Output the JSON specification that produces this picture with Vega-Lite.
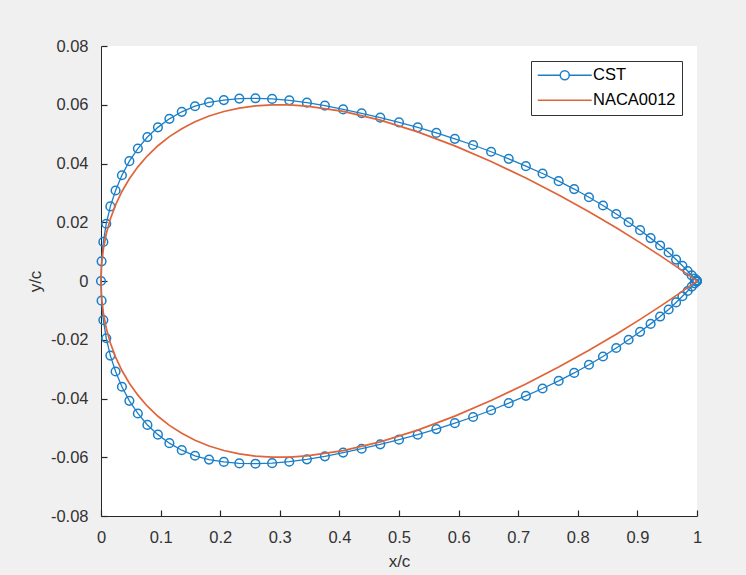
{
  "$schema": "https://vega.github.io/schema/vega-lite/v6.json",
  "width": 596,
  "height": 470,
  "autosize": {"type": "none"},
  "padding": {"left": 101, "top": 46, "right": 49, "bottom": 59},
  "background": "#f0f0f0",
  "config": {
    "view": {"fill": "white", "stroke": null},
    "font": "Liberation Sans",
    "axis": {
      "domainColor": "#262626",
      "ticks": true,
      "tickColor": "#262626",
      "labelColor": "#333333",
      "titleColor": "#333333",
      "labelFont": "Liberation Sans",
      "titleFont": "Liberation Sans",
      "labelFontSize": 16.5,
      "titleFontSize": 17,
      "titleFontWeight": "normal",
      "grid": false,
      "domainWidth": 1,
      "tickWidth": 1.2,
      "tickSize": -6,
      "labelPadding": 19,
      "labelFlush": false,
      "labelOverlap": false,
      "zindex": 1
    }
  },
  "data": {
    "values": [
      {"s": "CST", "o": 0, "x": 1, "y": 0},
      {"s": "CST", "o": 1, "x": 0.99901, "y": 0.0002},
      {"s": "CST", "o": 2, "x": 0.99606, "y": 0.0008},
      {"s": "CST", "o": 3, "x": 0.99114, "y": 0.0019},
      {"s": "CST", "o": 4, "x": 0.98429, "y": 0.0034},
      {"s": "CST", "o": 5, "x": 0.97553, "y": 0.0052},
      {"s": "CST", "o": 6, "x": 0.96489, "y": 0.0073},
      {"s": "CST", "o": 7, "x": 0.95241, "y": 0.0097},
      {"s": "CST", "o": 8, "x": 0.93815, "y": 0.0121},
      {"s": "CST", "o": 9, "x": 0.92216, "y": 0.0146},
      {"s": "CST", "o": 10, "x": 0.90451, "y": 0.0173},
      {"s": "CST", "o": 11, "x": 0.88526, "y": 0.02},
      {"s": "CST", "o": 12, "x": 0.86448, "y": 0.0228},
      {"s": "CST", "o": 13, "x": 0.84227, "y": 0.0257},
      {"s": "CST", "o": 14, "x": 0.81871, "y": 0.0285},
      {"s": "CST", "o": 15, "x": 0.79389, "y": 0.0313},
      {"s": "CST", "o": 16, "x": 0.76791, "y": 0.034},
      {"s": "CST", "o": 17, "x": 0.74088, "y": 0.0366},
      {"s": "CST", "o": 18, "x": 0.71289, "y": 0.0391},
      {"s": "CST", "o": 19, "x": 0.68406, "y": 0.0416},
      {"s": "CST", "o": 20, "x": 0.65451, "y": 0.044},
      {"s": "CST", "o": 21, "x": 0.62434, "y": 0.0463},
      {"s": "CST", "o": 22, "x": 0.59369, "y": 0.0484},
      {"s": "CST", "o": 23, "x": 0.56267, "y": 0.0504},
      {"s": "CST", "o": 24, "x": 0.5314, "y": 0.0523},
      {"s": "CST", "o": 25, "x": 0.5, "y": 0.054},
      {"s": "CST", "o": 26, "x": 0.4686, "y": 0.0556},
      {"s": "CST", "o": 27, "x": 0.43733, "y": 0.0571},
      {"s": "CST", "o": 28, "x": 0.40631, "y": 0.0584},
      {"s": "CST", "o": 29, "x": 0.37566, "y": 0.0597},
      {"s": "CST", "o": 30, "x": 0.34549, "y": 0.0607},
      {"s": "CST", "o": 31, "x": 0.31594, "y": 0.0615},
      {"s": "CST", "o": 32, "x": 0.28711, "y": 0.062},
      {"s": "CST", "o": 33, "x": 0.25912, "y": 0.0622},
      {"s": "CST", "o": 34, "x": 0.23209, "y": 0.0621},
      {"s": "CST", "o": 35, "x": 0.20611, "y": 0.0616},
      {"s": "CST", "o": 36, "x": 0.18129, "y": 0.0608},
      {"s": "CST", "o": 37, "x": 0.15773, "y": 0.0595},
      {"s": "CST", "o": 38, "x": 0.13552, "y": 0.0576},
      {"s": "CST", "o": 39, "x": 0.11474, "y": 0.0552},
      {"s": "CST", "o": 40, "x": 0.09549, "y": 0.0523},
      {"s": "CST", "o": 41, "x": 0.07784, "y": 0.049},
      {"s": "CST", "o": 42, "x": 0.06185, "y": 0.0451},
      {"s": "CST", "o": 43, "x": 0.04759, "y": 0.0408},
      {"s": "CST", "o": 44, "x": 0.03511, "y": 0.036},
      {"s": "CST", "o": 45, "x": 0.02447, "y": 0.0308},
      {"s": "CST", "o": 46, "x": 0.01571, "y": 0.0254},
      {"s": "CST", "o": 47, "x": 0.00886, "y": 0.0195},
      {"s": "CST", "o": 48, "x": 0.00394, "y": 0.0133},
      {"s": "CST", "o": 49, "x": 0.00099, "y": 0.0067},
      {"s": "CST", "o": 50, "x": 0, "y": 0},
      {"s": "CST", "o": 51, "x": 0.00099, "y": -0.0067},
      {"s": "CST", "o": 52, "x": 0.00394, "y": -0.0133},
      {"s": "CST", "o": 53, "x": 0.00886, "y": -0.0195},
      {"s": "CST", "o": 54, "x": 0.01571, "y": -0.0254},
      {"s": "CST", "o": 55, "x": 0.02447, "y": -0.0308},
      {"s": "CST", "o": 56, "x": 0.03511, "y": -0.036},
      {"s": "CST", "o": 57, "x": 0.04759, "y": -0.0408},
      {"s": "CST", "o": 58, "x": 0.06185, "y": -0.0451},
      {"s": "CST", "o": 59, "x": 0.07784, "y": -0.049},
      {"s": "CST", "o": 60, "x": 0.09549, "y": -0.0523},
      {"s": "CST", "o": 61, "x": 0.11474, "y": -0.0552},
      {"s": "CST", "o": 62, "x": 0.13552, "y": -0.0576},
      {"s": "CST", "o": 63, "x": 0.15773, "y": -0.0595},
      {"s": "CST", "o": 64, "x": 0.18129, "y": -0.0608},
      {"s": "CST", "o": 65, "x": 0.20611, "y": -0.0616},
      {"s": "CST", "o": 66, "x": 0.23209, "y": -0.0621},
      {"s": "CST", "o": 67, "x": 0.25912, "y": -0.0622},
      {"s": "CST", "o": 68, "x": 0.28711, "y": -0.062},
      {"s": "CST", "o": 69, "x": 0.31594, "y": -0.0615},
      {"s": "CST", "o": 70, "x": 0.34549, "y": -0.0607},
      {"s": "CST", "o": 71, "x": 0.37566, "y": -0.0597},
      {"s": "CST", "o": 72, "x": 0.40631, "y": -0.0584},
      {"s": "CST", "o": 73, "x": 0.43733, "y": -0.0571},
      {"s": "CST", "o": 74, "x": 0.4686, "y": -0.0556},
      {"s": "CST", "o": 75, "x": 0.5, "y": -0.054},
      {"s": "CST", "o": 76, "x": 0.5314, "y": -0.0523},
      {"s": "CST", "o": 77, "x": 0.56267, "y": -0.0504},
      {"s": "CST", "o": 78, "x": 0.59369, "y": -0.0484},
      {"s": "CST", "o": 79, "x": 0.62434, "y": -0.0463},
      {"s": "CST", "o": 80, "x": 0.65451, "y": -0.044},
      {"s": "CST", "o": 81, "x": 0.68406, "y": -0.0416},
      {"s": "CST", "o": 82, "x": 0.71289, "y": -0.0391},
      {"s": "CST", "o": 83, "x": 0.74088, "y": -0.0366},
      {"s": "CST", "o": 84, "x": 0.76791, "y": -0.034},
      {"s": "CST", "o": 85, "x": 0.79389, "y": -0.0313},
      {"s": "CST", "o": 86, "x": 0.81871, "y": -0.0285},
      {"s": "CST", "o": 87, "x": 0.84227, "y": -0.0257},
      {"s": "CST", "o": 88, "x": 0.86448, "y": -0.0228},
      {"s": "CST", "o": 89, "x": 0.88526, "y": -0.02},
      {"s": "CST", "o": 90, "x": 0.90451, "y": -0.0173},
      {"s": "CST", "o": 91, "x": 0.92216, "y": -0.0146},
      {"s": "CST", "o": 92, "x": 0.93815, "y": -0.0121},
      {"s": "CST", "o": 93, "x": 0.95241, "y": -0.0097},
      {"s": "CST", "o": 94, "x": 0.96489, "y": -0.0073},
      {"s": "CST", "o": 95, "x": 0.97553, "y": -0.0052},
      {"s": "CST", "o": 96, "x": 0.98429, "y": -0.0034},
      {"s": "CST", "o": 97, "x": 0.99114, "y": -0.0019},
      {"s": "CST", "o": 98, "x": 0.99606, "y": -0.0008},
      {"s": "CST", "o": 99, "x": 0.99901, "y": -0.0002},
      {"s": "CST", "o": 100, "x": 1, "y": 0},
      {"s": "NACA0012", "o": 0, "x": 1, "y": 0},
      {"s": "NACA0012", "o": 1, "x": 0.99606, "y": 0.00057},
      {"s": "NACA0012", "o": 2, "x": 0.98429, "y": 0.00226},
      {"s": "NACA0012", "o": 3, "x": 0.96489, "y": 0.00499},
      {"s": "NACA0012", "o": 4, "x": 0.93815, "y": 0.00864},
      {"s": "NACA0012", "o": 5, "x": 0.90451, "y": 0.01307},
      {"s": "NACA0012", "o": 6, "x": 0.86448, "y": 0.01811},
      {"s": "NACA0012", "o": 7, "x": 0.81871, "y": 0.02357},
      {"s": "NACA0012", "o": 8, "x": 0.76791, "y": 0.02928},
      {"s": "NACA0012", "o": 9, "x": 0.71289, "y": 0.03505},
      {"s": "NACA0012", "o": 10, "x": 0.65451, "y": 0.04069},
      {"s": "NACA0012", "o": 11, "x": 0.59369, "y": 0.04599},
      {"s": "NACA0012", "o": 12, "x": 0.5314, "y": 0.05075},
      {"s": "NACA0012", "o": 13, "x": 0.4686, "y": 0.05475},
      {"s": "NACA0012", "o": 14, "x": 0.40631, "y": 0.05776},
      {"s": "NACA0012", "o": 15, "x": 0.34549, "y": 0.05956},
      {"s": "NACA0012", "o": 16, "x": 0.31594, "y": 0.05995},
      {"s": "NACA0012", "o": 17, "x": 0.28711, "y": 0.05997},
      {"s": "NACA0012", "o": 18, "x": 0.25912, "y": 0.05961},
      {"s": "NACA0012", "o": 19, "x": 0.23209, "y": 0.05886},
      {"s": "NACA0012", "o": 20, "x": 0.20611, "y": 0.05771},
      {"s": "NACA0012", "o": 21, "x": 0.18129, "y": 0.05616},
      {"s": "NACA0012", "o": 22, "x": 0.15773, "y": 0.05421},
      {"s": "NACA0012", "o": 23, "x": 0.13552, "y": 0.05186},
      {"s": "NACA0012", "o": 24, "x": 0.11474, "y": 0.04914},
      {"s": "NACA0012", "o": 25, "x": 0.09549, "y": 0.04605},
      {"s": "NACA0012", "o": 26, "x": 0.07784, "y": 0.04262},
      {"s": "NACA0012", "o": 27, "x": 0.06185, "y": 0.03886},
      {"s": "NACA0012", "o": 28, "x": 0.04759, "y": 0.0348},
      {"s": "NACA0012", "o": 29, "x": 0.03511, "y": 0.03047},
      {"s": "NACA0012", "o": 30, "x": 0.02447, "y": 0.02589},
      {"s": "NACA0012", "o": 31, "x": 0.01571, "y": 0.02109},
      {"s": "NACA0012", "o": 32, "x": 0.00886, "y": 0.01608},
      {"s": "NACA0012", "o": 33, "x": 0.00394, "y": 0.01088},
      {"s": "NACA0012", "o": 34, "x": 0.00099, "y": 0.00552},
      {"s": "NACA0012", "o": 35, "x": 0, "y": 0},
      {"s": "NACA0012", "o": 36, "x": 0.00099, "y": -0.00552},
      {"s": "NACA0012", "o": 37, "x": 0.00394, "y": -0.01088},
      {"s": "NACA0012", "o": 38, "x": 0.00886, "y": -0.01608},
      {"s": "NACA0012", "o": 39, "x": 0.01571, "y": -0.02109},
      {"s": "NACA0012", "o": 40, "x": 0.02447, "y": -0.02589},
      {"s": "NACA0012", "o": 41, "x": 0.03511, "y": -0.03047},
      {"s": "NACA0012", "o": 42, "x": 0.04759, "y": -0.0348},
      {"s": "NACA0012", "o": 43, "x": 0.06185, "y": -0.03886},
      {"s": "NACA0012", "o": 44, "x": 0.07784, "y": -0.04262},
      {"s": "NACA0012", "o": 45, "x": 0.09549, "y": -0.04605},
      {"s": "NACA0012", "o": 46, "x": 0.11474, "y": -0.04914},
      {"s": "NACA0012", "o": 47, "x": 0.13552, "y": -0.05186},
      {"s": "NACA0012", "o": 48, "x": 0.15773, "y": -0.05421},
      {"s": "NACA0012", "o": 49, "x": 0.18129, "y": -0.05616},
      {"s": "NACA0012", "o": 50, "x": 0.20611, "y": -0.05771},
      {"s": "NACA0012", "o": 51, "x": 0.23209, "y": -0.05886},
      {"s": "NACA0012", "o": 52, "x": 0.25912, "y": -0.05961},
      {"s": "NACA0012", "o": 53, "x": 0.28711, "y": -0.05997},
      {"s": "NACA0012", "o": 54, "x": 0.31594, "y": -0.05995},
      {"s": "NACA0012", "o": 55, "x": 0.34549, "y": -0.05956},
      {"s": "NACA0012", "o": 56, "x": 0.40631, "y": -0.05776},
      {"s": "NACA0012", "o": 57, "x": 0.4686, "y": -0.05475},
      {"s": "NACA0012", "o": 58, "x": 0.5314, "y": -0.05075},
      {"s": "NACA0012", "o": 59, "x": 0.59369, "y": -0.04599},
      {"s": "NACA0012", "o": 60, "x": 0.65451, "y": -0.04069},
      {"s": "NACA0012", "o": 61, "x": 0.71289, "y": -0.03505},
      {"s": "NACA0012", "o": 62, "x": 0.76791, "y": -0.02928},
      {"s": "NACA0012", "o": 63, "x": 0.81871, "y": -0.02357},
      {"s": "NACA0012", "o": 64, "x": 0.86448, "y": -0.01811},
      {"s": "NACA0012", "o": 65, "x": 0.90451, "y": -0.01307},
      {"s": "NACA0012", "o": 66, "x": 0.93815, "y": -0.00864},
      {"s": "NACA0012", "o": 67, "x": 0.96489, "y": -0.00499},
      {"s": "NACA0012", "o": 68, "x": 0.98429, "y": -0.00226},
      {"s": "NACA0012", "o": 69, "x": 0.99606, "y": -0.00057},
      {"s": "NACA0012", "o": 70, "x": 1, "y": 0}
    ]
  },
  "encoding": {
    "x": {
      "field": "x",
      "type": "quantitative",
      "scale": {"domain": [0, 1], "nice": false, "zero": false},
      "axis": {
        "title": "x/c",
        "values": [0, 0.1, 0.2, 0.3, 0.4, 0.5, 0.6, 0.7, 0.8, 0.9, 1],
        "labelExpr": "datum.value + ''",
        "titlePadding": 8
      }
    },
    "y": {
      "field": "y",
      "type": "quantitative",
      "scale": {"domain": [-0.08, 0.08], "nice": false, "zero": false},
      "axis": {
        "title": "y/c",
        "values": [-0.08, -0.06, -0.04, -0.02, 0, 0.02, 0.04, 0.06, 0.08],
        "labelExpr": "datum.value + ''",
        "titlePadding": 6
      }
    }
  },
  "layer": [
    {
      "transform": [{"filter": "datum.s === 'CST'"}],
      "mark": {"type": "line", "strokeWidth": 1.3},
      "encoding": {
        "order": {"field": "o", "type": "quantitative"},
        "color": {
          "field": "s",
          "type": "nominal",
          "scale": {"domain": ["CST", "NACA0012"], "range": ["#1a7fc8", "#e0643a"]},
          "legend": {
            "title": null,
            "orient": "top-right",
            "offset": 15,
            "padding": 6,
            "rowPadding": 8,
            "strokeColor": "#333333",
            "fillColor": "white",
            "labelFontSize": 16.5,
            "labelColor": "#000000",
            "labelFont": "Liberation Sans",
            "symbolSize": 100,
            "symbolStrokeWidth": 1.5,
            "symbolOffset": 19.5,
            "labelOffset": 20,
            "encode": {
              "symbols": {
                "update": {
                  "shape": {"signal": "datum.value === 'CST' ? 'M-5.4,0H-0.9M0.9,0H5.4M-0.9,0A0.9,0.9,0,1,1,0.9,0A0.9,0.9,0,1,1,-0.9,0' : 'M-5.4,0H5.4'"},
                  "fill": {"value": "transparent"},
                  "strokeWidth": {"value": 1.5}
                }
              }
            }
          }
        }
      }
    },
    {
      "transform": [{"filter": "datum.s === 'CST'"}],
      "mark": {"type": "point", "shape": "circle", "filled": false, "size": 75, "strokeWidth": 1.5, "color": "#1a7fc8", "opacity": 1}
    },
    {
      "transform": [{"filter": "datum.s === 'NACA0012'"}],
      "mark": {"type": "line", "strokeWidth": 1.7},
      "encoding": {
        "order": {"field": "o", "type": "quantitative"},
        "color": {"field": "s", "type": "nominal"}
      }
    }
  ]
}
